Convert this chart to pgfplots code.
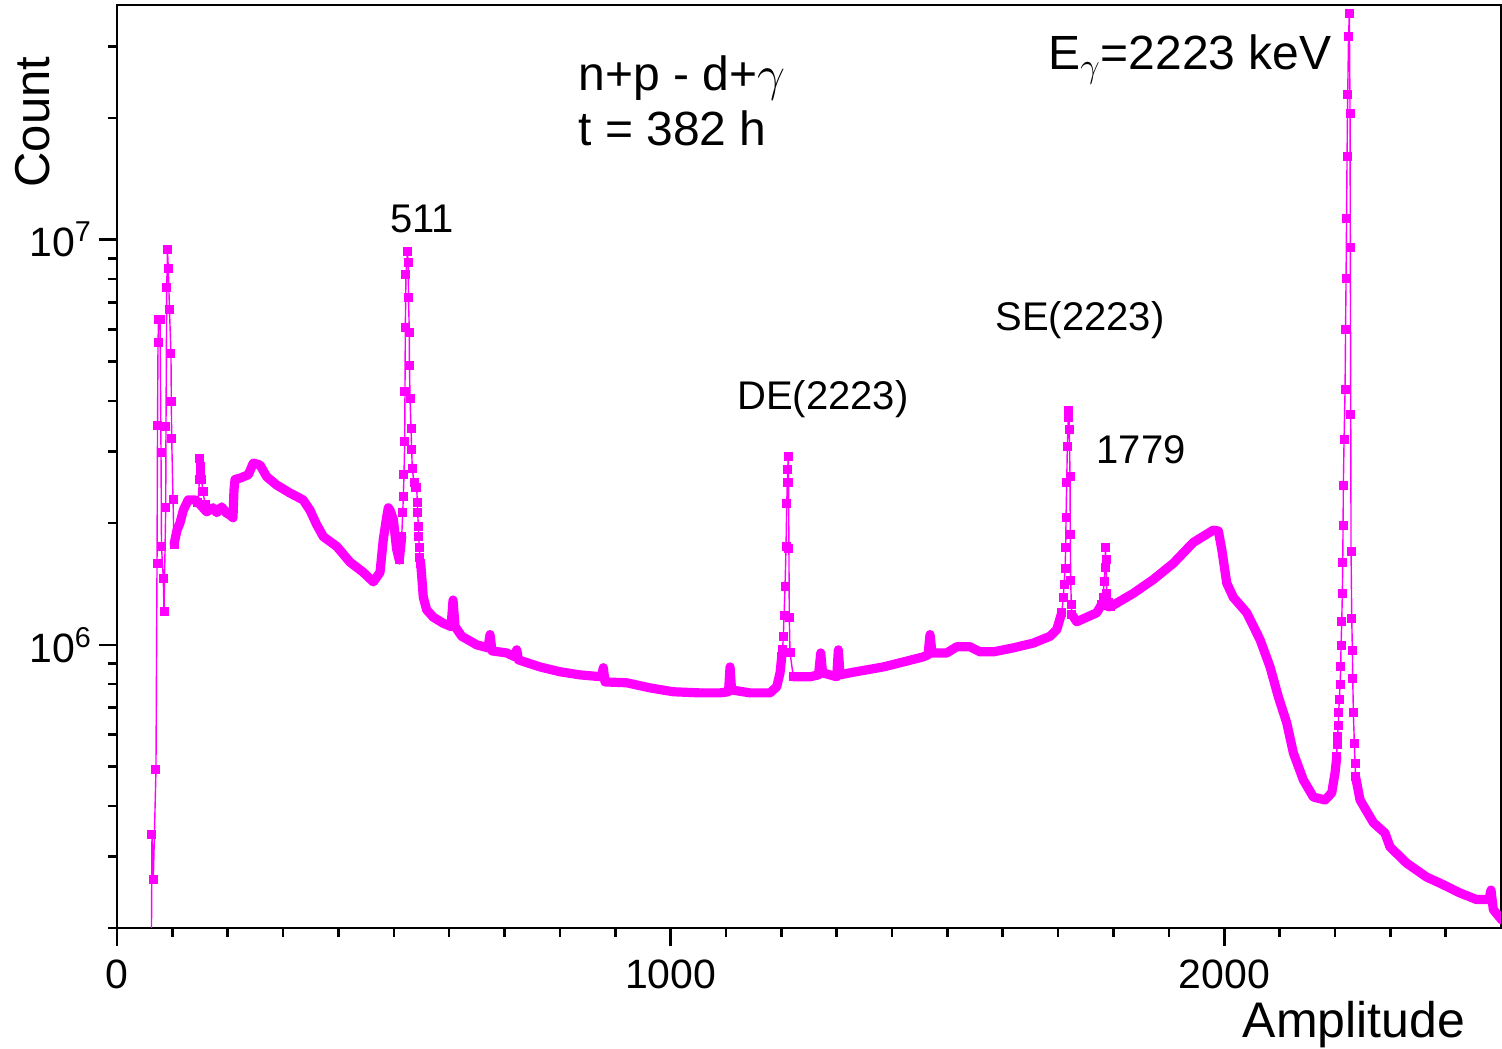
\documentclass[border=0pt]{standalone}
\usepackage{pgfplots}
\pgfplotsset{compat=1.18}
\usepackage{fontspec}
\setmainfont{Liberation Sans}
\definecolor{mag}{RGB}{255,0,255}
\newcommand{\annfont}{\fontsize{20}{24}\selectfont}
\newcommand{\bigfont}{\fontsize{24}{28}\selectfont}
\begin{document}
\begin{tikzpicture}
\begin{axis}[
  scale only axis, width=692pt, height=461.5pt,
  xmin=0, xmax=2500, ymode=log, ymin=2e5, ymax=3.8e7,
  axis line style={line width=1.3pt},
  xtick={0,1000,2000}, xticklabels={0,1000,2000},
  minor xtick={100,200,300,400,500,600,700,800,900,1100,1200,1300,1400,1500,1600,1700,1800,1900,2100,2200,2300,2400},
  ytick={1e6,1e7}, yticklabels={10\textsuperscript{6},10\textsuperscript{7}},
  minor ytick={2e5,3e5,4e5,5e5,6e5,7e5,8e5,9e5,2e6,3e6,4e6,5e6,6e6,7e6,8e6,9e6,2e7,3e7},
  tick align=outside, xtick pos=left, ytick pos=left,
  major tick length=9pt, minor tick length=4.5pt,
  every tick/.style={black, line width=1.3pt},
  tick label style={font=\fontsize{20.5}{24}\selectfont},
  xticklabel style={yshift=-3.5pt},
  ylabel={Count}, xlabel={Amplitude},
  y label style={at={(axis description cs:-0.0607,0.873)}, anchor=center, font=\fontsize{24.5}{28}\selectfont},
  x label style={at={(axis description cs:0.8938,-0.1051)}, anchor=center, font=\fontsize{25}{28}\selectfont},
  cont/.style={mag, line width=4.6pt, line join=round, line cap=round, mark=none},
  pk/.style={mag, line width=0.7pt, mark=square*, mark size=1.9pt, mark options={solid, fill=mag, draw=mag}},
]
% continuum segments
\addplot[cont] coordinates {
(103.0,1.77e6)(108.4,1.92e6)(113.8,2.00e6)(119.8,2.15e6)(128.8,2.28e6)(140.9,2.28e6)(146.3,2.25e6)
(162.0,2.13e6)(173.4,2.18e6)(180.1,2.12e6)(189.1,2.19e6)(196.9,2.12e6)(204.1,2.09e6)(209.5,2.06e6)
(211.3,2.41e6)(213.2,2.56e6)(222.2,2.58e6)(237.2,2.63e6)(246.2,2.81e6)(258.3,2.78e6)(270.4,2.60e6)
(288.5,2.48e6)(312.5,2.37e6)(336.0,2.28e6)(348.6,2.15e6)(360.7,1.98e6)(372.7,1.85e6)(396.9,1.75e6)
(420.9,1.60e6)(444.9,1.51e6)(463.0,1.43e6)(475.1,1.51e6)(481.0,1.82e6)(487.2,2.07e6)(490.1,2.18e6)
(493.1,2.15e6)(499.1,2.04e6)(505.2,1.72e6)(509.9,1.62e6)(514.3,1.85e6)};
\addplot[cont] coordinates {
(548.6,1.59e6)(553.3,1.31e6)(559.4,1.22e6)(571.4,1.17e6)(589.4,1.13e6)(603.4,1.11e6)(607.0,1.29e6)
(610.6,1.11e6)(622.7,1.05e6)(649.8,1.00e6)(670.2,9.83e5)(673.8,1.06e6)(677.4,9.66e5)(703.9,9.55e5)
(719.0,9.34e5)(722.0,9.72e5)(725.3,9.18e5)(764.1,8.82e5)(800.2,8.58e5)(836.4,8.43e5)(875.2,8.34e5)
(878.5,8.78e5)(881.5,8.10e5)(920.7,8.06e5)(962.8,7.83e5)(1004.9,7.66e5)(1053.1,7.61e5)(1089.3,7.61e5)
(1104.6,7.66e5)(1107.4,8.82e5)(1110.1,7.74e5)(1143.5,7.61e5)(1179.6,7.61e5)(1191.7,7.88e5)
(1197.7,8.53e5)(1200.7,9.34e5)};
\addplot[cont] coordinates {
(1221.7,8.34e5)(1251.8,8.34e5)(1267.2,8.43e5)(1271.2,9.55e5)(1274.4,8.53e5)(1300.1,8.34e5)
(1303.0,9.72e5)(1306.0,8.43e5)(1324.1,8.53e5)(1384.2,8.82e5)(1414.4,9.03e5)(1456.5,9.34e5)
(1465.0,9.45e5)(1468.6,1.06e6)(1472.2,9.55e5)(1498.8,9.55e5)(1516.8,9.89e5)(1540.9,9.89e5)
(1558.9,9.61e5)(1583.0,9.61e5)(1619.1,9.83e5)(1655.2,1.01e6)(1685.4,1.05e6)(1697.5,1.09e6)
(1706.5,1.20e6)};
\addplot[cont] coordinates {
(1724.5,1.19e6)(1733.6,1.14e6)(1751.7,1.17e6)(1769.7,1.20e6)(1778.8,1.26e6)(1793.7,1.24e6)
(1835.8,1.34e6)(1872.0,1.45e6)(1908.1,1.59e6)(1944.2,1.79e6)(1980.4,1.92e6)(1989.4,1.91e6)
(1995.6,1.72e6)(2004.6,1.42e6)(2016.5,1.31e6)(2040.7,1.20e6)(2064.7,1.03e6)(2082.8,8.82e5)
(2097.8,7.44e5)(2112.9,6.42e5)(2124.9,5.41e5)(2142.9,4.64e5)(2161.0,4.21e5)(2182.1,4.14e5)
(2194.2,4.31e5)(2200.2,4.83e5)(2203.3,5.29e5)};
\addplot[cont] coordinates {
(2237.3,4.72e5)(2245.4,4.14e5)(2269.4,3.64e5)(2290.4,3.43e5)(2299.5,3.17e5)(2329.7,2.89e5)
(2365.8,2.67e5)(2389.8,2.58e5)(2425.9,2.44e5)(2456.1,2.35e5)(2478.3,2.35e5)(2481.9,2.48e5)
(2486.1,2.22e5)(2501.8,2.09e5)};
% peaks
\addplot[pk] coordinates {
(62.3,1.98e5)(63.2,3.41e5)(65.6,2.63e5)(70.4,4.91e5)(72.3,1.59e6)(73.2,3.47e6)(74.1,5.57e6)
(75.0,6.35e6)(77.7,6.35e6)(79.5,2.98e6)(80.4,1.75e6)(83.6,1.46e6)(84.9,1.21e6)(88.0,2.18e6)
(88.5,3.45e6)(89.8,7.61e6)(91.2,9.45e6)(92.7,8.48e6)(94.8,6.72e6)(97.5,5.23e6)(98.1,3.98e6)
(98.8,3.24e6)(101.2,2.28e6)(103.0,1.77e6)};
\addplot[pk] coordinates {
(146.3,2.25e6)(149.0,2.56e6)(149.9,2.89e6)(150.8,2.75e6)(151.7,2.63e6)(152.6,2.56e6)(155.4,2.39e6)(159.0,2.22e6)};
\addplot[pk] coordinates {
(509.9,1.62e6)(514.3,1.85e6)(516.1,2.12e6)(517.2,2.32e6)(518.4,2.63e6)(519.7,3.17e6)(520.2,4.21e6)
(520.8,6.06e6)(522.0,8.19e6)(524.4,9.34e6)(526.2,8.78e6)(526.6,7.19e6)(528.0,5.89e6)(528.3,4.89e6)
(529.3,4.05e6)(531.1,3.43e6)(532.3,3.03e6)(533.4,2.72e6)(536.5,2.51e6)(539.6,2.45e6)(541.4,2.44e6)
(542.5,2.24e6)(543.2,2.12e6)(544.3,1.96e6)(545.0,1.85e6)(546.1,1.74e6)(547.3,1.64e6)(548.6,1.59e6)};
\addplot[pk] coordinates {
(1200.7,9.34e5)(1202.2,9.72e5)(1203.6,1.05e6)(1204.9,1.18e6)(1206.7,1.39e6)(1208.5,1.75e6)
(1209.8,2.23e6)(1210.8,2.51e6)(1211.7,2.71e6)(1212.6,2.91e6)(1213.1,2.51e6)(1213.7,1.73e6)
(1214.4,1.17e6)(1215.7,9.55e5)(1221.7,8.34e5)};
\addplot[pk] coordinates {
(1706.5,1.20e6)(1709.4,1.31e6)(1710.7,1.41e6)(1712.5,1.54e6)(1713.7,1.74e6)(1714.3,2.06e6)
(1715.5,2.51e6)(1716.6,3.08e6)(1718.4,3.64e6)(1719.1,3.80e6)(1720.2,3.40e6)(1721.5,2.60e6)
(1722.0,1.87e6)(1722.7,1.44e6)(1723.8,1.26e6)(1724.5,1.19e6)};
\addplot[pk] coordinates {
(1778.8,1.26e6)(1781.6,1.31e6)(1782.9,1.43e6)(1784.7,1.55e6)(1785.3,1.74e6)(1786.5,1.62e6)
(1787.8,1.34e6)(1790.1,1.27e6)(1793.7,1.24e6)};
\addplot[pk] coordinates {
(2203.3,5.29e5)(2203.8,5.66e5)(2204.4,5.93e5)(2206.2,6.31e5)(2206.7,6.79e5)(2208.0,7.31e5)
(2209.2,7.97e5)(2210.5,8.82e5)(2211.0,9.94e5)(2212.3,1.14e6)(2213.4,1.34e6)(2214.1,1.60e6)
(2214.7,1.97e6)(2215.2,2.47e6)(2216.5,3.21e6)(2218.3,4.26e6)(2219.2,6.00e6)(2220.1,8.01e6)
(2221.0,1.13e7)(2221.9,1.61e7)(2223.1,2.29e7)(2224.6,3.17e7)(2226.0,3.61e7)(2227.3,2.05e7)
(2227.8,9.55e6)(2228.6,3.70e6)(2229.1,1.70e6)(2230.4,1.16e6)(2231.5,9.66e5)(2232.2,8.24e5)
(2233.3,6.79e5)(2235.1,5.70e5)(2236.4,5.08e5)(2237.3,4.72e5)};
% annotations
\node[font=\annfont] at (rel axis cs:0.2204,0.7682) {511};
\node[font=\annfont] at (rel axis cs:0.5101,0.5731) {DE(2223)};
\node[font=\annfont] at (rel axis cs:0.6958,0.6587) {SE(2223)};
\node[font=\annfont] at (rel axis cs:0.7399,0.5179) {1779};
\node[font=\bigfont, anchor=base west, inner sep=0pt] at (rel axis cs:0.3331,0.9068) {n+p - d+$\gamma$};
\node[font=\bigfont, anchor=base west, inner sep=0pt] at (rel axis cs:0.3331,0.8472) {t = 382 h};
\node[font=\bigfont, anchor=base west, inner sep=0pt] at (rel axis cs:0.6727,0.9296) {E$_{\gamma}$=2223 keV};
\end{axis}
\pgfresetboundingbox
\path (-58.5pt,-60pt) rectangle (692.5pt,464pt);
\end{tikzpicture}
\end{document}
